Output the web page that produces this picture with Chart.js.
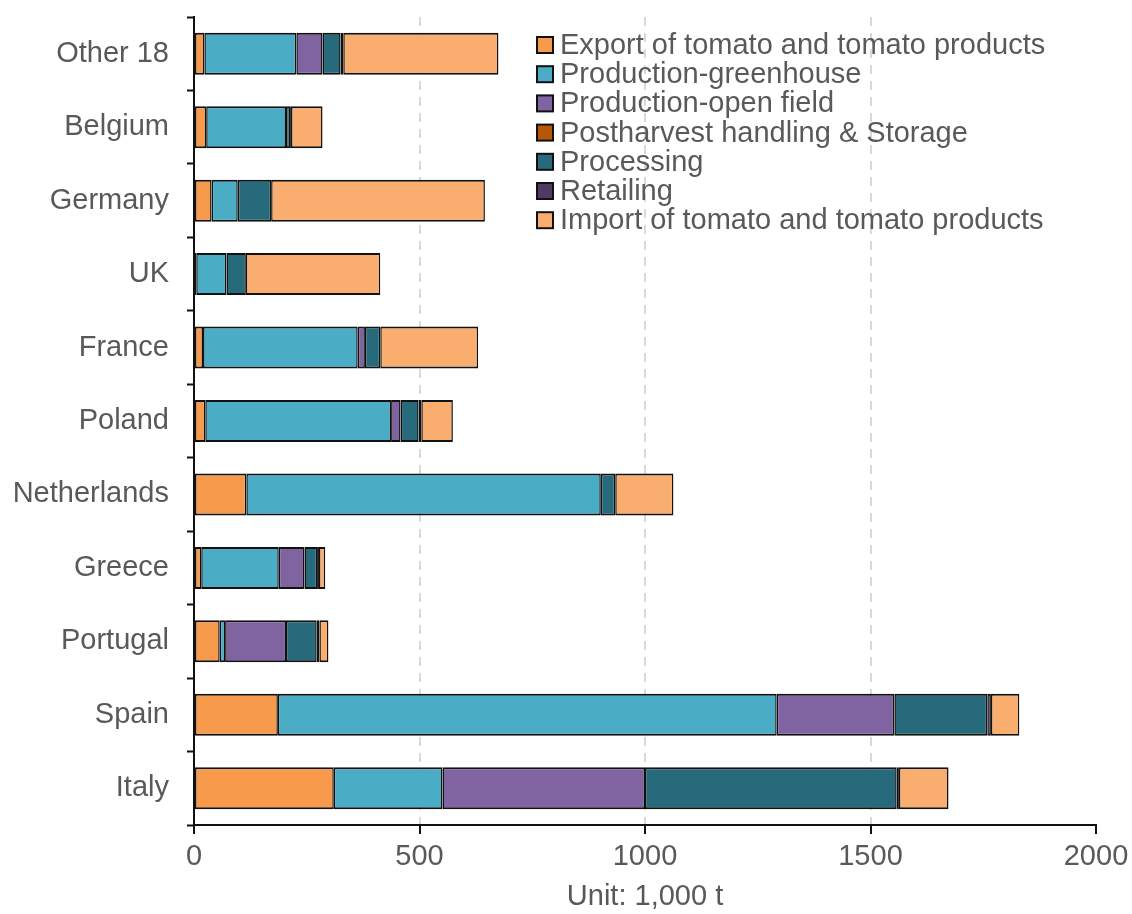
<!DOCTYPE html>
<html>
<head>
<meta charset="utf-8">
<script src="https://cdn.jsdelivr.net/npm/chart.js@4.4.1/dist/chart.umd.min.js"></script>
<style>
  html, body { margin: 0; padding: 0; background: #fff; }
  #wrap { width: 1132px; height: 914px; position: relative; }
</style>
</head>
<body>
<div id="wrap"><canvas id="chart" width="1132" height="914"></canvas></div>
<script>
// countries, top to bottom
const countries = ["Other 18", "Belgium", "Germany", "UK", "France", "Poland", "Netherlands", "Greece", "Portugal", "Spain", "Italy"];

// values in 1,000 t
const exportVals     = [23, 27, 39, 5, 20, 25, 116, 16, 57, 186, 310];
const greenhouseVals = [204, 177, 58, 67, 343, 412, 786, 172, 12, 1106, 241];
const openFieldVals  = [58, 0, 0, 0, 16, 21, 0, 57, 135, 261, 449];
const postharvestVals = [0, 0, 0, 0, 0, 0, 0, 0, 0, 0, 0];
const processingVals = [40, 9, 74, 43, 34, 40, 32, 28, 68, 206, 558];
const retailingVals  = [6, 2, 0, 0, 0, 6, 0, 4, 6, 8, 5];
const importVals     = [344, 70, 474, 298, 217, 70, 129, 14, 20, 63, 110];

const xTicks = [0, 500, 1000, 1500, 2000];

const SERIES = [
  { label: "Export of tomato and tomato products", data: exportVals, color: "#F79A4B" },
  { label: "Production-greenhouse", data: greenhouseVals, color: "#4BACC6" },
  { label: "Production-open field", data: openFieldVals, color: "#8064A2" },
  { label: "Postharvest handling & Storage", data: postharvestVals, color: "#B65708" },
  { label: "Processing", data: processingVals, color: "#276A7C" },
  { label: "Retailing", data: retailingVals, color: "#4D3B62" },
  { label: "Import of tomato and tomato products", data: importVals, color: "#F9AD6E" },
];

const FONT = "'Liberation Sans', Arial, sans-serif";
const TEXT = "#595959";
const SIZE = 29;

// legend drawn inside the plot, upper right
const boxLegend = {
  id: "boxLegend",
  afterDraw(chart) {
    const ctx = chart.ctx;
    const x0 = 537, y0 = 45, step = 29.2, box = 16;
    ctx.save();
    ctx.font = SIZE + "px " + FONT;
    ctx.textBaseline = "middle";
    chart.data.datasets.forEach((ds, i) => {
      const y = y0 + i * step;
      ctx.fillStyle = ds.backgroundColor;
      ctx.fillRect(x0, y - box / 2, box, box);
      ctx.lineWidth = 2;
      ctx.strokeStyle = "#111";
      ctx.strokeRect(x0, y - box / 2, box, box);
      ctx.fillStyle = TEXT;
      ctx.fillText(ds.label, x0 + 23, y + 1);
    });
    ctx.restore();
  },
};

new Chart(document.getElementById("chart"), {
  type: "bar",
  data: {
    labels: countries,
    datasets: SERIES.map((s) => ({
      label: s.label,
      data: s.data,
      backgroundColor: s.color,
      borderColor: "#111",
      // thinner side edges so neighbouring segments share one line; empty segments get none
      borderWidth: (c) => (c.raw ? { top: 2, bottom: 2, left: 1.5, right: 1.5 } : 0),
      borderSkipped: false,
      barPercentage: 0.572,
      categoryPercentage: 1,
    })),
  },
  options: {
    indexAxis: "y",
    responsive: false,
    animation: false,
    layout: { padding: { top: 17, right: 36, left: 0, bottom: 0 } },
    plugins: {
      legend: { display: false },
      tooltip: { enabled: false },
    },
    scales: {
      x: {
        stacked: true,
        min: 0,
        max: 2000,
        afterBuildTicks: (scale) => { scale.ticks = xTicks.map((v) => ({ value: v })); },
        afterFit: (scale) => {
          scale.height = 89;
          scale.paddingLeft = 0;
          scale.paddingRight = 0;
        },
        ticks: {
          color: TEXT,
          font: { family: FONT, size: SIZE },
          padding: 6,
          maxRotation: 0,
          callback: (v) => String(v),
        },
        grid: {
          color: (c) => (c.tick && (c.tick.value === 0 || c.tick.value === 2000) ? "rgba(0,0,0,0)" : "#d9d9d9"),
          lineWidth: 2,
          tickColor: "#111",
          tickLength: 9,
          tickWidth: 2,
          tickBorderDash: [],
        },
        border: { display: true, color: "#111", width: 2, dash: [9, 7] },
        title: {
          display: true,
          text: "Unit: 1,000 t",
          color: TEXT,
          font: { family: FONT, size: SIZE },
          padding: { top: 7, bottom: 0 },
        },
      },
      y: {
        stacked: true,
        afterFit: (scale) => {
          scale.width = 194;
          scale.paddingTop = 0;
          scale.paddingBottom = 0;
        },
        ticks: {
          color: TEXT,
          font: { family: FONT, size: SIZE },
          padding: 18,
        },
        grid: {
          offset: true,
          drawOnChartArea: false,
          color: "#111",
          tickColor: "#111",
          tickLength: 7,
          tickWidth: 2,
        },
        border: { display: true, color: "#111", width: 2 },
      },
    },
  },
  plugins: [boxLegend],
});
</script>
</body>
</html>
